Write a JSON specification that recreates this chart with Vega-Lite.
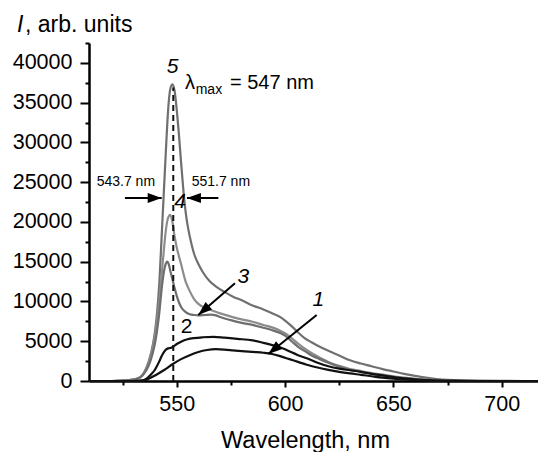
{
  "$schema": "https://vega.github.io/schema/vega-lite/v6.json",
  "width": 449,
  "height": 338,
  "autosize": {"type": "none"},
  "padding": {"left": 89, "top": 43, "right": 0, "bottom": 71},
  "config": {"view": {"stroke": null}, "font": "Liberation Sans"},
  "datasets": {
    "curves": [
      {"c":"5","x":509.5,"y":0},{"c":"5","x":520,"y":0},{"c":"5","x":525,"y":40},{"c":"5","x":530,"y":180},{"c":"5","x":533,"y":450},{"c":"5","x":535,"y":1100},{"c":"5","x":537,"y":2400},{"c":"5","x":539,"y":4600},{"c":"5","x":540,"y":6300},{"c":"5","x":541,"y":8800},{"c":"5","x":542,"y":12500},{"c":"5","x":543,"y":18000},{"c":"5","x":544,"y":23500},{"c":"5","x":545,"y":29000},{"c":"5","x":546,"y":34000},{"c":"5","x":547,"y":36700},{"c":"5","x":548,"y":37300},{"c":"5","x":549,"y":36500},{"c":"5","x":550,"y":34100},{"c":"5","x":551,"y":31000},{"c":"5","x":552,"y":27500},{"c":"5","x":553,"y":24200},{"c":"5","x":554,"y":21500},{"c":"5","x":555,"y":19600},{"c":"5","x":556,"y":18200},{"c":"5","x":557,"y":17000},{"c":"5","x":558,"y":16000},{"c":"5","x":560,"y":14700},{"c":"5","x":562,"y":13700},{"c":"5","x":565,"y":12600},{"c":"5","x":568,"y":11900},{"c":"5","x":572,"y":11200},{"c":"5","x":576,"y":10600},{"c":"5","x":580,"y":10150},{"c":"5","x":585,"y":9500},{"c":"5","x":590,"y":9000},{"c":"5","x":595,"y":8400},{"c":"5","x":598,"y":8000},{"c":"5","x":600,"y":7600},{"c":"5","x":603,"y":6900},{"c":"5","x":606,"y":6100},{"c":"5","x":609,"y":5400},{"c":"5","x":612,"y":4900},{"c":"5","x":616,"y":4300},{"c":"5","x":620,"y":3800},{"c":"5","x":625,"y":3200},{"c":"5","x":630,"y":2600},{"c":"5","x":635,"y":2200},{"c":"5","x":640,"y":1850},{"c":"5","x":645,"y":1500},{"c":"5","x":650,"y":1200},{"c":"5","x":655,"y":900},{"c":"5","x":660,"y":650},{"c":"5","x":665,"y":420},{"c":"5","x":670,"y":250},{"c":"5","x":675,"y":130},{"c":"5","x":680,"y":60},{"c":"5","x":690,"y":20},{"c":"5","x":700,"y":5},{"c":"5","x":716.75,"y":0},
      {"c":"4","x":509.5,"y":0},{"c":"4","x":520,"y":0},{"c":"4","x":525,"y":40},{"c":"4","x":530,"y":180},{"c":"4","x":533,"y":450},{"c":"4","x":535,"y":1050},{"c":"4","x":537,"y":2200},{"c":"4","x":539,"y":4300},{"c":"4","x":540,"y":5800},{"c":"4","x":541,"y":7800},{"c":"4","x":542,"y":10300},{"c":"4","x":543,"y":13200},{"c":"4","x":544,"y":16300},{"c":"4","x":545,"y":19000},{"c":"4","x":546,"y":20500},{"c":"4","x":547,"y":20900},{"c":"4","x":548,"y":20000},{"c":"4","x":549,"y":18200},{"c":"4","x":550,"y":16800},{"c":"4","x":551,"y":15700},{"c":"4","x":552,"y":14700},{"c":"4","x":553,"y":13600},{"c":"4","x":554,"y":12600},{"c":"4","x":555,"y":11900},{"c":"4","x":556,"y":11300},{"c":"4","x":558,"y":10300},{"c":"4","x":560,"y":9700},{"c":"4","x":563,"y":9200},{"c":"4","x":566,"y":8900},{"c":"4","x":570,"y":8500},{"c":"4","x":575,"y":8100},{"c":"4","x":580,"y":7750},{"c":"4","x":585,"y":7450},{"c":"4","x":590,"y":7050},{"c":"4","x":595,"y":6650},{"c":"4","x":598,"y":6300},{"c":"4","x":600,"y":6000},{"c":"4","x":603,"y":5400},{"c":"4","x":606,"y":4700},{"c":"4","x":610,"y":3900},{"c":"4","x":613,"y":3400},{"c":"4","x":617,"y":2800},{"c":"4","x":620,"y":2400},{"c":"4","x":625,"y":1900},{"c":"4","x":630,"y":1500},{"c":"4","x":635,"y":1250},{"c":"4","x":640,"y":1000},{"c":"4","x":645,"y":800},{"c":"4","x":650,"y":600},{"c":"4","x":655,"y":420},{"c":"4","x":660,"y":280},{"c":"4","x":665,"y":170},{"c":"4","x":670,"y":90},{"c":"4","x":680,"y":30},{"c":"4","x":700,"y":0},{"c":"4","x":716.75,"y":0},
      {"c":"3","x":509.5,"y":0},{"c":"3","x":520,"y":0},{"c":"3","x":525,"y":40},{"c":"3","x":530,"y":170},{"c":"3","x":533,"y":420},{"c":"3","x":535,"y":950},{"c":"3","x":537,"y":1900},{"c":"3","x":539,"y":3600},{"c":"3","x":540,"y":4800},{"c":"3","x":541,"y":6500},{"c":"3","x":542,"y":8700},{"c":"3","x":543,"y":11500},{"c":"3","x":544,"y":13600},{"c":"3","x":545,"y":14800},{"c":"3","x":545.6,"y":15000},{"c":"3","x":546.3,"y":14700},{"c":"3","x":547,"y":13900},{"c":"3","x":548,"y":12800},{"c":"3","x":549,"y":11700},{"c":"3","x":550,"y":10700},{"c":"3","x":551,"y":9900},{"c":"3","x":552,"y":9300},{"c":"3","x":554,"y":8700},{"c":"3","x":556,"y":8400},{"c":"3","x":558,"y":8300},{"c":"3","x":560,"y":8250},{"c":"3","x":563,"y":8300},{"c":"3","x":566,"y":8350},{"c":"3","x":568,"y":8250},{"c":"3","x":570,"y":8050},{"c":"3","x":575,"y":7650},{"c":"3","x":580,"y":7300},{"c":"3","x":585,"y":7050},{"c":"3","x":590,"y":6700},{"c":"3","x":595,"y":6300},{"c":"3","x":598,"y":6000},{"c":"3","x":600,"y":5700},{"c":"3","x":603,"y":5000},{"c":"3","x":606,"y":4300},{"c":"3","x":610,"y":3600},{"c":"3","x":613,"y":3100},{"c":"3","x":616,"y":2750},{"c":"3","x":620,"y":2300},{"c":"3","x":625,"y":1800},{"c":"3","x":630,"y":1400},{"c":"3","x":635,"y":1150},{"c":"3","x":640,"y":900},{"c":"3","x":645,"y":700},{"c":"3","x":650,"y":520},{"c":"3","x":655,"y":370},{"c":"3","x":660,"y":240},{"c":"3","x":665,"y":140},{"c":"3","x":670,"y":70},{"c":"3","x":680,"y":20},{"c":"3","x":700,"y":0},{"c":"3","x":716.75,"y":0},
      {"c":"2","x":509.5,"y":0},{"c":"2","x":530,"y":0},{"c":"2","x":533,"y":40},{"c":"2","x":535,"y":130},{"c":"2","x":536,"y":280},{"c":"2","x":538,"y":800},{"c":"2","x":540,"y":1450},{"c":"2","x":541,"y":1950},{"c":"2","x":542,"y":2500},{"c":"2","x":543,"y":3100},{"c":"2","x":544,"y":3600},{"c":"2","x":545,"y":3950},{"c":"2","x":546,"y":4100},{"c":"2","x":547,"y":4150},{"c":"2","x":548,"y":4250},{"c":"2","x":549,"y":4450},{"c":"2","x":550,"y":4650},{"c":"2","x":552,"y":4950},{"c":"2","x":555,"y":5250},{"c":"2","x":558,"y":5400},{"c":"2","x":562,"y":5500},{"c":"2","x":567,"y":5550},{"c":"2","x":572,"y":5450},{"c":"2","x":578,"y":5300},{"c":"2","x":585,"y":5100},{"c":"2","x":590,"y":4800},{"c":"2","x":595,"y":4450},{"c":"2","x":600,"y":4000},{"c":"2","x":603,"y":3600},{"c":"2","x":606,"y":3250},{"c":"2","x":610,"y":2850},{"c":"2","x":615,"y":2300},{"c":"2","x":620,"y":1850},{"c":"2","x":625,"y":1550},{"c":"2","x":630,"y":1350},{"c":"2","x":635,"y":1150},{"c":"2","x":640,"y":900},{"c":"2","x":645,"y":700},{"c":"2","x":650,"y":500},{"c":"2","x":655,"y":340},{"c":"2","x":660,"y":210},{"c":"2","x":665,"y":110},{"c":"2","x":670,"y":50},{"c":"2","x":680,"y":10},{"c":"2","x":700,"y":0},{"c":"2","x":716.75,"y":0},
      {"c":"1","x":509.5,"y":0},{"c":"1","x":532,"y":0},{"c":"1","x":534,"y":50},{"c":"1","x":536,"y":170},{"c":"1","x":540,"y":700},{"c":"1","x":544,"y":1350},{"c":"1","x":548,"y":2100},{"c":"1","x":552,"y":2750},{"c":"1","x":556,"y":3250},{"c":"1","x":560,"y":3650},{"c":"1","x":564,"y":3900},{"c":"1","x":568,"y":4000},{"c":"1","x":572,"y":3950},{"c":"1","x":576,"y":3850},{"c":"1","x":580,"y":3750},{"c":"1","x":585,"y":3650},{"c":"1","x":590,"y":3550},{"c":"1","x":594,"y":3400},{"c":"1","x":598,"y":3100},{"c":"1","x":602,"y":2750},{"c":"1","x":606,"y":2400},{"c":"1","x":610,"y":2050},{"c":"1","x":615,"y":1700},{"c":"1","x":620,"y":1400},{"c":"1","x":625,"y":1150},{"c":"1","x":630,"y":950},{"c":"1","x":635,"y":780},{"c":"1","x":640,"y":600},{"c":"1","x":645,"y":430},{"c":"1","x":650,"y":300},{"c":"1","x":655,"y":200},{"c":"1","x":660,"y":120},{"c":"1","x":665,"y":60},{"c":"1","x":670,"y":30},{"c":"1","x":680,"y":10},{"c":"1","x":700,"y":0},{"c":"1","x":716.75,"y":0}
    ]
  },
  "encoding": {
    "x": {
      "field": "x", "type": "quantitative",
      "scale": {"domain": [509.5, 716.75], "nice": false, "zero": false},
      "axis": {
        "values": [525, 550, 575, 600, 625, 650, 675, 700],
        "labelExpr": "datum.value % 50 === 0 ? datum.label : ''",
        "tickSize": {"condition": {"test": "datum.value % 50 === 0", "value": 6}, "value": 4},
        "title": "Wavelength, nm",
        "titleFontSize": 23.5, "titleFontWeight": "normal", "titleColor": "black",
        "titleX": 216, "titleY": 66, "titleBaseline": "alphabetic", "titleAlign": "center",
        "labelFontSize": 21.5, "labelPadding": 6, "labelColor": "black",
        "labelFlush": false, "labelOverlap": false,
        "domainWidth": 2.5, "domainColor": "black", "tickWidth": 2, "tickColor": "black",
        "grid": false
      }
    },
    "y": {
      "field": "y", "type": "quantitative",
      "scale": {"domain": [0, 42500], "nice": false},
      "axis": {
        "values": [0, 2500, 5000, 7500, 10000, 12500, 15000, 17500, 20000, 22500, 25000, 27500, 30000, 32500, 35000, 37500, 40000, 42500],
        "format": "d",
        "labelExpr": "datum.value % 5000 === 0 ? datum.label : ''",
        "tickSize": {"condition": {"test": "datum.value % 5000 === 0", "value": 9}, "value": 4},
        "title": null,
        "labelFontSize": 21.5, "labelPadding": 8, "labelColor": "black",
        "labelFlush": false, "labelOverlap": false,
        "domainWidth": 2.5, "domainColor": "black", "tickWidth": 2, "tickColor": "black",
        "grid": false
      }
    }
  },
  "layer": [
    {
      "data": {"name": "curves"},
      "mark": {"type": "line", "strokeWidth": 2.2, "interpolate": "monotone"},
      "encoding": {
        "color": {
          "field": "c", "type": "nominal",
          "scale": {"domain": ["1", "2", "3", "4", "5"], "range": ["#111111", "#111111", "#6e6e6e", "#8c8c8c", "#707070"]},
          "legend": null
        },
        "order": {"field": "x", "type": "quantitative"}
      }
    },
    {
      "data": {"values": [{"x": 548.4, "y": 0, "y2": 36900}]},
      "mark": {"type": "rule", "color": "#111111", "strokeWidth": 2, "strokeDash": [6, 4]},
      "encoding": {"y2": {"field": "y2"}}
    },
    {
      "data": {"values": [
        {"x": 526.1, "y": 23012, "x2": 543.05, "y2": 23012},
        {"x": 569.2, "y": 23012, "x2": 554.7, "y2": 23012},
        {"x": 576.88, "y": 12285, "x2": 559.94, "y2": 8299},
        {"x": 614.59, "y": 8299, "x2": 592.25, "y2": 3395}
      ]},
      "mark": {"type": "rule", "color": "black", "strokeWidth": 2},
      "encoding": {"x2": {"field": "x2"}, "y2": {"field": "y2"}}
    },
    {
      "data": {"values": [{"x": 543.05, "y": 23012}]},
      "mark": {"type": "point", "shape": "M0,0L-1,-0.36L-1,0.36Z", "size": 784, "filled": true, "color": "black", "opacity": 1, "angle": 0}
    },
    {
      "data": {"values": [{"x": 554.7, "y": 23012}]},
      "mark": {"type": "point", "shape": "M0,0L-1,-0.36L-1,0.36Z", "size": 784, "filled": true, "color": "black", "opacity": 1, "angle": 180}
    },
    {
      "data": {"values": [{"x": 559.94, "y": 8299}]},
      "mark": {"type": "point", "shape": "M0,0L-1,-0.36L-1,0.36Z", "size": 784, "filled": true, "color": "black", "opacity": 1, "angle": 139}
    },
    {
      "data": {"values": [{"x": 592.25, "y": 3395}]},
      "mark": {"type": "point", "shape": "M0,0L-1,-0.36L-1,0.36Z", "size": 784, "filled": true, "color": "black", "opacity": 1, "angle": 141}
    },
    {
      "data": {"values": [
        {"t": "5", "x": 548.13, "y": 39484},
        {"t": "4", "x": 551.5, "y": 22546},
        {"t": "3", "x": 580.7, "y": 13115},
        {"t": "1", "x": 615.33, "y": 10186}
      ]},
      "mark": {"type": "text", "fontSize": 21, "fontStyle": "italic", "align": "center", "baseline": "middle", "color": "black"},
      "encoding": {"text": {"field": "t"}}
    },
    {
      "data": {"values": [{"t": "2", "x": 554.6, "y": 6828}]},
      "mark": {"type": "text", "fontSize": 21, "align": "center", "baseline": "middle", "color": "black"},
      "encoding": {"text": {"field": "t"}}
    },
    {
      "data": {"values": [
        {"t": "λ", "x": 553.8, "y": 37435},
        {"t": "= 547 nm", "x": 574.58, "y": 37472}
      ]},
      "mark": {"type": "text", "fontSize": 20, "align": "left", "baseline": "middle", "color": "black"},
      "encoding": {"text": {"field": "t"}}
    },
    {
      "data": {"values": [{"t": "max", "x": 558.75, "y": 36554}]},
      "mark": {"type": "text", "fontSize": 14, "align": "left", "baseline": "middle", "color": "black"},
      "encoding": {"text": {"field": "t"}}
    },
    {
      "data": {"values": [
        {"t": "543.7 nm", "x": 513.05, "y": 25061},
        {"t": "551.7 nm", "x": 556.9, "y": 25061}
      ]},
      "mark": {"type": "text", "fontSize": 14, "align": "left", "baseline": "middle", "color": "black"},
      "encoding": {"text": {"field": "t"}}
    },
    {
      "data": {"values": [{"t": "I", "x": 476.3, "y": 43923}]},
      "mark": {"type": "text", "fontSize": 23, "fontStyle": "italic", "align": "left", "baseline": "alphabetic", "color": "black"},
      "encoding": {"text": {"field": "t"}}
    },
    {
      "data": {"values": [{"t": ", arb. units", "x": 479.96, "y": 43923}]},
      "mark": {"type": "text", "fontSize": 23, "align": "left", "baseline": "alphabetic", "color": "black"},
      "encoding": {"text": {"field": "t"}}
    }
  ]
}
